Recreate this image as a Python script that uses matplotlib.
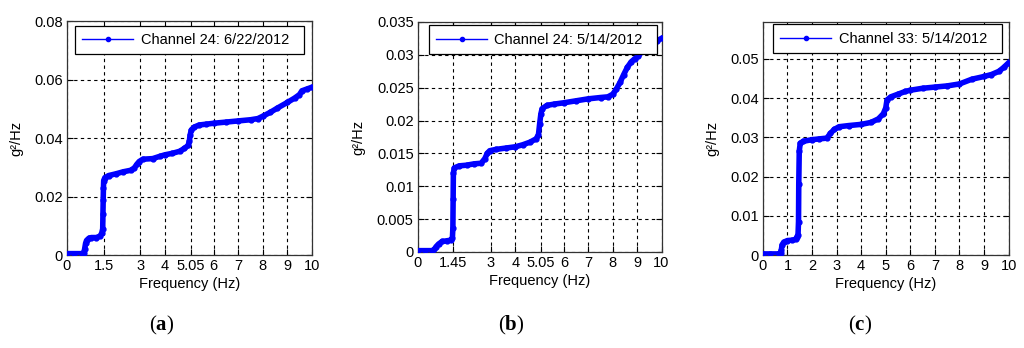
"""
cumulative PSD curves for three channels, panels (a) (b) (c)
"""

import matplotlib
matplotlib.use('Agg')
import matplotlib.pyplot as plt
from matplotlib.lines import Line2D

plt.rcParams['font.family'] = ['Liberation Sans', 'DejaVu Sans']
plt.rcParams['font.size'] = 10.5
plt.rcParams['mathtext.fontset'] = 'custom'
plt.rcParams['mathtext.rm'] = 'Liberation Serif'
plt.rcParams['mathtext.bf'] = 'Liberation Serif:bold'

# panel (a): channel 24, 6/22/2012
freq_a = [0.0, 0.3, 0.6, 0.68, 0.72, 0.76, 0.8, 0.9, 1.0, 1.2, 1.35, 1.42, 1.46, 1.47,
          1.48, 1.49, 1.5, 1.55, 1.7, 2.0, 2.3, 2.6, 2.75, 2.85, 2.95, 3.1, 3.5, 3.8,
          4.0, 4.3, 4.6, 4.8, 4.95, 5.0, 5.03, 5.08, 5.2, 5.4, 5.7, 6.0, 6.5, 7.0, 7.5,
          7.8, 8.0, 8.3, 8.6, 9.0, 9.3, 9.5, 9.6, 9.8, 10.0]
psd_a = [0.0005, 0.0005, 0.0005, 0.0006, 0.002, 0.004, 0.005, 0.0058, 0.006, 0.006,
         0.0065, 0.0075, 0.009, 0.014, 0.019, 0.023, 0.0255, 0.0265, 0.0272, 0.0278,
         0.0285, 0.029, 0.0298, 0.031, 0.032, 0.0328, 0.033, 0.0338, 0.0343, 0.0348,
         0.0355, 0.0365, 0.0375, 0.039, 0.041, 0.0428, 0.0438, 0.0445, 0.0448, 0.0451,
         0.0455, 0.0459, 0.0463, 0.0467, 0.0475, 0.0488, 0.0503, 0.0522, 0.0537,
         0.0549, 0.0562, 0.0568, 0.0574]

# panel (b): channel 24, 5/14/2012
freq_b = [0.0, 0.3, 0.6, 0.68, 0.75, 0.85, 1.0, 1.2, 1.35, 1.42, 1.44, 1.45, 1.46, 1.5,
          1.7, 2.0, 2.3, 2.6, 2.75, 2.85, 2.95, 3.2, 3.6, 4.0, 4.3, 4.6, 4.85, 4.95, 5.0,
          5.05, 5.1, 5.3, 5.6, 6.0, 6.5, 7.0, 7.5, 7.8, 8.0, 8.15, 8.3, 8.45, 8.6, 8.75,
          8.9, 9.05, 9.2, 9.5, 9.8, 10.0]
psd_b = [0.0002, 0.0002, 0.0002, 0.0004, 0.0008, 0.0012, 0.0016, 0.0017, 0.0018, 0.0021,
         0.0037, 0.008, 0.012, 0.0128, 0.0131, 0.0132, 0.0134, 0.0135, 0.0142, 0.015,
         0.0154, 0.0156, 0.0158, 0.016, 0.0163, 0.0167, 0.0172, 0.0178, 0.0195, 0.021,
         0.0218, 0.0223, 0.0225, 0.0227, 0.023, 0.0233, 0.0235, 0.0236, 0.024, 0.0248,
         0.0258, 0.027, 0.0281, 0.0289, 0.0294, 0.0298, 0.0305, 0.0314, 0.0321, 0.0325]

# panel (c): channel 33, 5/14/2012
freq_c = [0.0, 0.3, 0.65, 0.72, 0.75, 0.78, 0.85, 1.0, 1.2, 1.33, 1.38, 1.43, 1.45, 1.46,
          1.48, 1.52, 1.65, 2.0, 2.3, 2.6, 2.75, 2.9, 3.1, 3.5, 4.0, 4.4, 4.7, 4.9, 5.0,
          5.05, 5.2, 5.5, 5.8, 6.0, 6.5, 7.0, 7.5, 8.0, 8.5, 9.0, 9.3, 9.6, 9.8, 10.0]
psd_c = [0.0003, 0.0003, 0.0003, 0.0006, 0.0013, 0.0026, 0.0033, 0.0037, 0.0038, 0.004,
         0.0046, 0.0052, 0.0085, 0.018, 0.0265, 0.0285, 0.029, 0.0294, 0.0296, 0.0298,
         0.031, 0.032, 0.0327, 0.033, 0.0333, 0.0338, 0.0347, 0.036, 0.0375, 0.0395,
         0.0403, 0.041, 0.0417, 0.042, 0.0425, 0.0428, 0.0431, 0.0436, 0.0448, 0.0455,
         0.046, 0.0468, 0.0478, 0.049]

labels = ['Channel 24: 6/22/2012', 'Channel 24: 5/14/2012', 'Channel 33: 5/14/2012']
panel_names = ['a', 'b', 'c']

xticks_a = [0, 1.5, 3, 4, 5.05, 6, 7, 8, 9, 10]
xticks_b = [0, 1.45, 3, 4, 5.05, 6, 7, 8, 9, 10]
xticks_c = [0, 1, 2, 3, 4, 5, 6, 7, 8, 9, 10]
xticklabels_a = ['0', '1.5', '3', '4', '5.05', '6', '7', '8', '9', '10']
xticklabels_b = ['0', '1.45', '3', '4', '5.05', '6', '7', '8', '9', '10']
xticklabels_c = ['0', '1', '2', '3', '4', '5', '6', '7', '8', '9', '10']

yticks_a = [0, 0.02, 0.04, 0.06, 0.08]
yticks_b = [0, 0.005, 0.01, 0.015, 0.02, 0.025, 0.03, 0.035]
yticks_c = [0, 0.01, 0.02, 0.03, 0.04, 0.05]
yticklabels_a = ['0', '0.02', '0.04', '0.06', '0.08']
yticklabels_b = ['0', '0.005', '0.01', '0.015', '0.02', '0.025', '0.03', '0.035']
yticklabels_c = ['0', '0.01', '0.02', '0.03', '0.04', '0.05']
ymax = [0.08, 0.035, 0.0594]

fig = plt.figure(figsize=(10.24, 3.48), dpi=100)

rects = [[0.0654, 0.267, 0.239, 0.672],
         [0.408, 0.276, 0.238, 0.661],
         [0.745, 0.267, 0.240, 0.670]]
legend_boxes = [(0.033, 0.859, 0.934, 0.111),
                (0.045, 0.861, 0.935, 0.113),
                (0.041, 0.867, 0.931, 0.116)]
label_x = [162 / 1024, 511 / 1024, 860 / 1024]

series = [(freq_a, psd_a, xticks_a, xticklabels_a, yticks_a, yticklabels_a),
          (freq_b, psd_b, xticks_b, xticklabels_b, yticks_b, yticklabels_b),
          (freq_c, psd_c, xticks_c, xticklabels_c, yticks_c, yticklabels_c)]

for i, (fx, py, xt, xtl, yt, ytl) in enumerate(series):
    ax = fig.add_axes(rects[i])
    ax.plot(fx, py, '.-', color='#0000ff', lw=4, ms=7, zorder=3)
    ax.set_xlim(0, 10)
    ax.set_ylim(0, ymax[i])
    ax.set_xticks(xt)
    ax.set_xticklabels(xtl)
    ax.set_yticks(yt)
    ax.set_yticklabels(ytl)
    ax.tick_params(direction='in', top=True, right=True, length=4, width=0.8,
                   colors='black', labelsize=10.5, pad=3)
    ax.grid(True, color='black', linestyle=(0, (3, 3)), lw=0.8)
    ax.set_axisbelow(True)
    for s in ax.spines.values():
        s.set_color('#333333')
        s.set_linewidth(0.9)
    ax.set_xlabel('Frequency (Hz)', labelpad=3)
    ax.set_ylabel('g²/Hz', labelpad=8)
    handle = Line2D([], [], color='#0000ff', lw=1, marker='.', ms=6)
    leg = ax.legend([handle], [labels[i]], loc='lower left', mode='expand',
                    bbox_to_anchor=legend_boxes[i], borderaxespad=0, fancybox=False,
                    framealpha=1, edgecolor='black', handlelength=3.5,
                    handletextpad=0.5, numpoints=1, borderpad=0.5, fontsize=10.5)
    leg.get_frame().set_linewidth(0.9)
    leg.set_zorder(5)
    fig.text(label_x[i], 0.066, r'$(\mathbf{%s})$' % panel_names[i],
             ha='center', va='center', fontsize=15)

plt.savefig('out.png', dpi=100)
